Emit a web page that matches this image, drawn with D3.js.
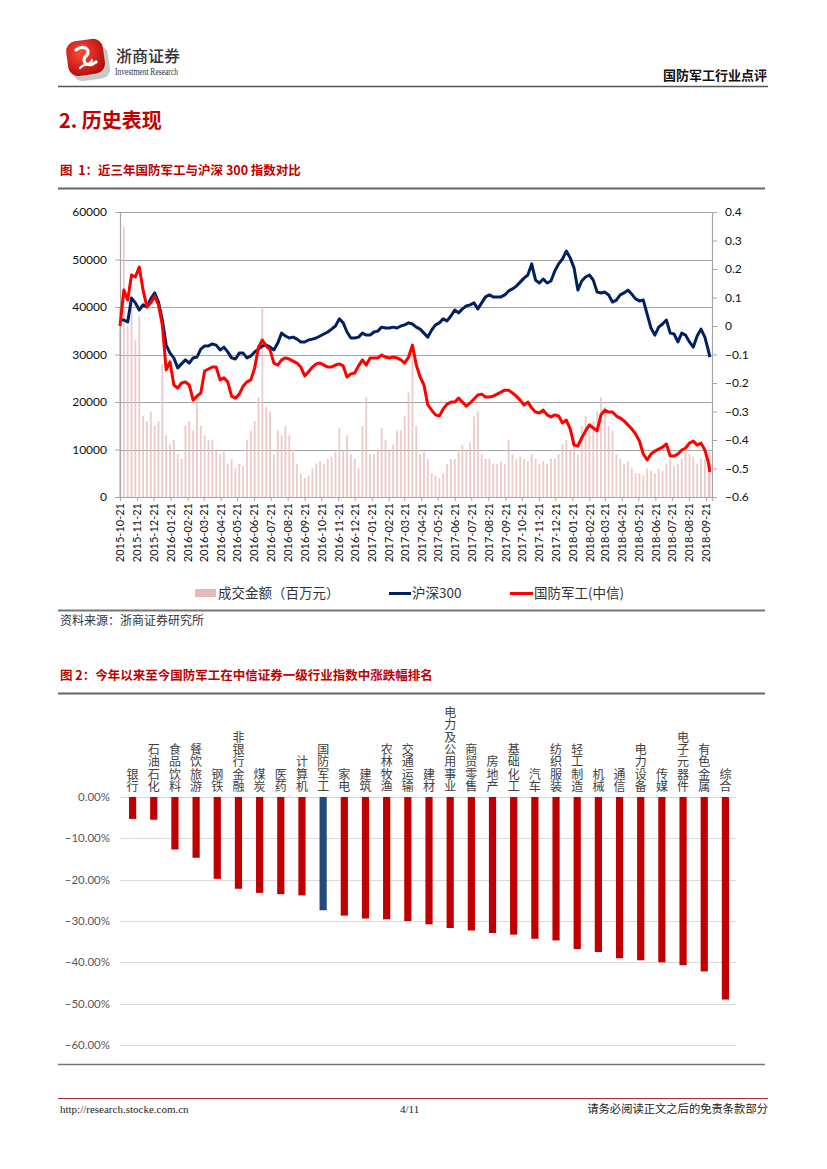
<!DOCTYPE html>
<html><head><meta charset="utf-8">
<script src="https://cdn.jsdelivr.net/npm/d3@7"></script>
<style>body{margin:0;background:#fff} svg{display:block}</style>
</head><body>
<svg id="page" width="827" height="1169"></svg>
<script>
// ---------------- DATA ----------------
const dates = ["2015-10-21","2015-10-28","2015-11-04","2015-11-11","2015-11-18","2015-11-25","2015-12-02","2015-12-09","2015-12-16","2015-12-23","2015-12-30",
"2016-01-06","2016-01-13","2016-01-20","2016-01-27","2016-02-03","2016-02-10","2016-02-17","2016-02-24","2016-03-02","2016-03-09","2016-03-16","2016-03-23","2016-03-30",
"2016-04-06","2016-04-13","2016-04-20","2016-04-27","2016-05-04","2016-05-11","2016-05-18","2016-05-25","2016-06-01","2016-06-08","2016-06-15","2016-06-22","2016-06-29",
"2016-07-06","2016-07-13","2016-07-20","2016-07-27","2016-08-03","2016-08-10","2016-08-17","2016-08-24","2016-08-31","2016-09-07","2016-09-14","2016-09-21","2016-09-28",
"2016-10-05","2016-10-12","2016-10-19","2016-10-26","2016-11-02","2016-11-09","2016-11-16","2016-11-23","2016-11-30","2016-12-07","2016-12-14","2016-12-21","2016-12-28",
"2017-01-04","2017-01-11","2017-01-18","2017-01-25","2017-02-01","2017-02-08","2017-02-15","2017-02-22","2017-03-01","2017-03-08","2017-03-15","2017-03-22","2017-03-29",
"2017-04-05","2017-04-12","2017-04-19","2017-04-26","2017-05-03","2017-05-10","2017-05-17","2017-05-24","2017-05-31","2017-06-07","2017-06-14","2017-06-21","2017-06-28",
"2017-07-05","2017-07-12","2017-07-19","2017-07-26","2017-08-02","2017-08-09","2017-08-16","2017-08-23","2017-08-30","2017-09-06","2017-09-13","2017-09-20","2017-09-27",
"2017-10-04","2017-10-11","2017-10-18","2017-10-25","2017-11-01","2017-11-08","2017-11-15","2017-11-22","2017-11-29","2017-12-06","2017-12-13","2017-12-20","2017-12-27",
"2018-01-03","2018-01-10","2018-01-17","2018-01-24","2018-01-31","2018-02-07","2018-02-14","2018-02-21","2018-02-28","2018-03-07","2018-03-14","2018-03-21","2018-03-28",
"2018-04-04","2018-04-11","2018-04-18","2018-04-25","2018-05-02","2018-05-09","2018-05-16","2018-05-23","2018-05-30","2018-06-06","2018-06-13","2018-06-20","2018-06-27",
"2018-07-04","2018-07-11","2018-07-18","2018-07-25","2018-08-01","2018-08-08","2018-08-15","2018-08-22","2018-08-29","2018-09-05","2018-09-12","2018-09-19","2018-09-26","2018-09-28"];

const hs300 = [0.021,0.021,0.014,0.098,0.081,0.056,0.074,0.067,0.095,0.116,0.084,
0.021,-0.067,-0.095,-0.112,-0.147,-0.133,-0.119,-0.130,-0.112,-0.109,-0.081,-0.070,-0.070,
-0.063,-0.067,-0.084,-0.074,-0.091,-0.112,-0.116,-0.095,-0.095,-0.112,-0.105,-0.091,-0.081,
-0.070,-0.067,-0.074,-0.084,-0.060,-0.025,-0.035,-0.042,-0.039,-0.046,-0.056,-0.056,-0.049,
-0.046,-0.042,-0.035,-0.028,-0.021,-0.011,0.000,0.025,0.011,-0.021,-0.042,-0.042,-0.039,
-0.025,-0.032,-0.032,-0.021,-0.018,-0.004,-0.007,-0.007,-0.004,-0.007,0.000,0.004,0.011,
0.007,-0.004,-0.011,-0.025,-0.039,-0.014,0.004,0.011,0.025,0.018,0.035,0.056,0.046,
0.060,0.070,0.074,0.081,0.060,0.081,0.102,0.109,0.102,0.102,0.102,0.109,0.123,
0.130,0.140,0.154,0.168,0.179,0.218,0.161,0.151,0.165,0.151,0.158,0.193,0.218,
0.235,0.263,0.239,0.204,0.126,0.158,0.172,0.179,0.161,0.119,0.116,0.119,0.109,
0.084,0.091,0.109,0.116,0.126,0.112,0.095,0.088,0.091,0.042,-0.007,-0.032,-0.004,
0.007,0.021,-0.025,-0.028,-0.056,-0.025,-0.032,-0.056,-0.074,-0.035,-0.011,-0.039,-0.091,-0.109];

const defense = [0.000,0.126,0.091,0.179,0.172,0.207,0.126,0.067,0.081,0.105,0.074,
0.004,-0.154,-0.126,-0.207,-0.218,-0.200,-0.196,-0.207,-0.260,-0.246,-0.235,-0.158,-0.151,
-0.144,-0.144,-0.189,-0.182,-0.196,-0.246,-0.253,-0.239,-0.211,-0.196,-0.189,-0.147,-0.074,
-0.049,-0.070,-0.084,-0.130,-0.137,-0.119,-0.112,-0.116,-0.123,-0.130,-0.144,-0.175,-0.161,
-0.144,-0.133,-0.130,-0.137,-0.144,-0.144,-0.137,-0.133,-0.140,-0.179,-0.168,-0.165,-0.140,
-0.119,-0.137,-0.112,-0.112,-0.112,-0.102,-0.109,-0.112,-0.109,-0.112,-0.119,-0.130,-0.109,
-0.067,-0.137,-0.179,-0.207,-0.277,-0.295,-0.312,-0.316,-0.291,-0.274,-0.267,-0.267,-0.253,
-0.267,-0.281,-0.270,-0.256,-0.242,-0.239,-0.249,-0.249,-0.246,-0.239,-0.232,-0.225,-0.225,
-0.235,-0.246,-0.260,-0.277,-0.267,-0.288,-0.302,-0.305,-0.295,-0.312,-0.319,-0.312,-0.316,
-0.340,-0.330,-0.361,-0.418,-0.421,-0.393,-0.368,-0.347,-0.358,-0.368,-0.312,-0.295,-0.302,
-0.302,-0.316,-0.323,-0.333,-0.347,-0.361,-0.379,-0.404,-0.449,-0.470,-0.449,-0.439,-0.432,
-0.425,-0.414,-0.456,-0.456,-0.449,-0.435,-0.428,-0.411,-0.404,-0.418,-0.411,-0.435,-0.484,-0.512];

const turnover = [40000,57000,36000,42000,33000,38000,17000,16000,18000,15000,16000,
28000,13000,11000,12000,9000,8000,15000,16000,14000,20000,15000,13000,12000,
12000,10000,9000,9500,7000,8000,6000,7000,6500,12000,14000,16000,21000,
40000,19000,18000,9000,14000,13000,15000,13000,9500,7000,5000,4000,4500,
6000,7000,7500,7000,8000,8500,9500,14500,10000,13000,9000,8000,6000,
15000,21000,9000,9000,10000,14500,12000,10000,11000,14000,14000,17000,22000,
32000,15000,9000,9500,8000,5000,4500,4000,5000,7000,8000,8000,9500,
11000,10000,11500,17000,18000,9000,8000,8000,7000,7000,7500,7000,12000,
9000,8000,8500,8000,7500,9000,8000,7000,7500,7000,8000,8000,9000,
11000,12000,10000,13000,9000,15000,17000,14000,16000,18000,21000,19000,15000,
14000,9000,8000,7000,7500,6000,5000,5000,4500,6000,5500,5000,6000,
5500,7000,8000,6500,7000,8000,10000,9000,8500,7000,8000,8000,9000,10000];

const monthTicks = ["2015-10-21","2015-11-21","2015-12-21","2016-01-21","2016-02-21","2016-03-21","2016-04-21","2016-05-21","2016-06-21","2016-07-21","2016-08-21","2016-09-21",
"2016-10-21","2016-11-21","2016-12-21","2017-01-21","2017-02-21","2017-03-21","2017-04-21","2017-05-21","2017-06-21","2017-07-21","2017-08-21","2017-09-21",
"2017-10-21","2017-11-21","2017-12-21","2018-01-21","2018-02-21","2018-03-21","2018-04-21","2018-05-21","2018-06-21","2018-07-21","2018-08-21","2018-09-21"];
const leftTicks = [0,10000,20000,30000,40000,50000,60000];
const rightTicks = [-0.6,-0.5,-0.4,-0.3,-0.2,-0.1,0,0.1,0.2,0.3,0.4];
const legendLabels = ["成交金额（百万元）","沪深300","国防军工(中信)"];

const industries = ["银行","石油石化","食品饮料","餐饮旅游","钢铁","非银行金融","煤炭","医药","计算机","国防军工","家电","建筑","农林牧渔","交通运输","建材","电力及公用事业","商贸零售","房地产","基础化工","汽车","纺织服装","轻工制造","机械","通信","电力设备","传媒","电子元器件","有色金属","综合"];
const changes = [-5.3,-5.5,-12.7,-14.7,-19.8,-22.2,-23.2,-23.5,-23.8,-27.4,-28.7,-29.4,-29.6,-30.0,-30.8,-31.7,-32.3,-32.9,-33.3,-34.3,-34.7,-36.8,-37.5,-39.0,-39.5,-40.0,-40.7,-42.2,-49.0];
const pctTicks = [0,-10,-20,-30,-40,-50,-60];

// ---------------- PAGE ----------------
const svg = d3.select("#page");
const NUM = "Lato, 'Noto Sans CJK SC', sans-serif";
const CJK = "'Noto Sans CJK SC', sans-serif";
const RED = "#c00000";

// logo
const defs = svg.append("defs");
const g1 = defs.append("radialGradient").attr("id","lg").attr("cx","40%").attr("cy","35%").attr("r","70%");
g1.append("stop").attr("offset","0%").attr("stop-color","#ff4a3a");
g1.append("stop").attr("offset","100%").attr("stop-color","#b20d0d");
svg.append("rect").attr("x",72).attr("y",47).attr("width",37).attr("height",33).attr("rx",9)
  .attr("fill","#9a9a9a").attr("opacity",0.55).attr("transform","rotate(-8,90,63)");
svg.append("rect").attr("x",67).attr("y",40).attr("width",37).attr("height",35).attr("rx",10)
  .attr("fill","url(#lg)").attr("transform","rotate(-8,85,57)");
svg.append("path").attr("d","M76,50 C84,44 92,50 86,56 C80,62 88,68 96,62")
  .attr("fill","none").attr("stroke","#fff").attr("stroke-width",3.2).attr("stroke-linecap","round");
svg.append("path").attr("d","M80,68 C84,63 90,66 92,60")
  .attr("fill","none").attr("stroke","#fff").attr("stroke-width",2.2).attr("stroke-linecap","round");
svg.append("text").attr("x",116).attr("y",62).attr("font-family",CJK).attr("font-size",16)
  .attr("font-weight",500).attr("fill","#333").text("浙商证券");
svg.append("text").attr("x",115).attr("y",75).attr("font-family","'Liberation Serif', serif").attr("font-size",10)
  .attr("textLength",63).attr("lengthAdjust","spacingAndGlyphs").attr("fill","#333").text("Investment Research");
svg.append("text").attr("x",767).attr("y",80).attr("text-anchor","end").attr("font-family",CJK)
  .attr("font-size",13).attr("font-weight",700).attr("fill","#111").text("国防军工行业点评");
svg.append("line").attr("x1",58).attr("x2",768).attr("y1",86.5).attr("y2",86.5).attr("stroke","#555").attr("stroke-width",1.3);

svg.append("text").attr("x",59).attr("y",128).attr("font-family",CJK).attr("font-size",20)
  .attr("font-weight",700).attr("fill",RED).text("2. 历史表现");
svg.append("text").attr("x",60).attr("y",175).attr("font-family",CJK).attr("font-size",12.5)
  .attr("font-weight",700).attr("fill",RED).attr("xml:space","preserve").text("图  1：近三年国防军工与沪深 300 指数对比");
svg.append("line").attr("x1",58).attr("x2",765).attr("y1",188.5).attr("y2",188.5).attr("stroke","#666").attr("stroke-width",2);

// ---------------- CHART 1 ----------------
const parse = d3.timeParse("%Y-%m-%d");
const x = d3.scaleTime().domain([parse("2015-10-21"), parse("2018-10-02")]).range([120,712]);
const yL = d3.scaleLinear().domain([0,60000]).range([497,212]);
const yR = d3.scaleLinear().domain([-0.6,0.4]).range([497,212]);
const c1 = svg.append("g");

// gridlines
c1.append("g").selectAll("line").data(leftTicks.filter(d=>d>0)).join("line")
  .attr("x1",120).attr("x2",712).attr("y1",d=>Math.round(yL(d))+0.5).attr("y2",d=>Math.round(yL(d))+0.5)
  .attr("stroke","#a6a6a6").attr("stroke-width",1.2);

// turnover bars
const rows = dates.map((d,i)=>({date:parse(d), hs:hs300[i], df:defense[i], vol:turnover[i]}));
c1.append("g").selectAll("rect").data(rows).join("rect")
  .attr("x",d=>x(d.date)-0.9).attr("width",1.8)
  .attr("y",d=>yL(d.vol)).attr("height",d=>497-yL(d.vol))
  .attr("fill","#e6b8b7").attr("opacity",0.75);

// axes
const axL = c1.append("g").attr("transform","translate(120,0)")
  .call(d3.axisLeft(yL).tickValues(leftTicks).tickFormat(d3.format("d")).tickSize(5).tickPadding(8));
const axR = c1.append("g").attr("transform","translate(712,0)")
  .call(d3.axisRight(yR).tickValues(rightTicks).tickFormat(d=>d===0?"0":d3.format(".1f")(d)).tickSize(5).tickPadding(8));
const axB = c1.append("g").attr("transform","translate(0,497)")
  .call(d3.axisBottom(x).tickValues(monthTicks.map(parse)).tickFormat(d3.timeFormat("%Y-%m-%d")).tickSize(4));
[axL,axR,axB].forEach(a=>{
  a.select(".domain").attr("stroke","#a6a6a6").attr("stroke-width",1.2);
  a.selectAll(".tick line").attr("stroke","#a6a6a6");
  a.selectAll("text").attr("font-family",NUM).attr("font-size",12).attr("fill","#111");
});
axB.selectAll("text").attr("font-size",11)
  .attr("transform","rotate(-90)").attr("text-anchor","end").attr("x",-6).attr("y",0).attr("dy","0.35em");

// lines
const lineHs = d3.line().x(d=>x(d.date)).y(d=>yR(d.hs));
const lineDf = d3.line().x(d=>x(d.date)).y(d=>yR(d.df));
c1.append("path").datum(rows).attr("d",lineHs).attr("fill","none").attr("stroke","#002060")
  .attr("stroke-width",3).attr("stroke-linejoin","round");
c1.append("path").datum(rows).attr("d",lineDf).attr("fill","none").attr("stroke","#ff0000")
  .attr("stroke-width",3).attr("stroke-linejoin","round");

// legend
const lg = svg.append("g").attr("font-family",CJK).attr("font-size",13.5).attr("fill","#333");
lg.append("rect").attr("x",195).attr("y",589).attr("width",21).attr("height",8).attr("fill","#e6b8b7");
lg.append("text").attr("x",218).attr("y",598).text(legendLabels[0]);
lg.append("line").attr("x1",389).attr("x2",411).attr("y1",593.5).attr("y2",593.5).attr("stroke","#002060").attr("stroke-width",3);
lg.append("text").attr("x",412).attr("y",598).text(legendLabels[1]);
lg.append("line").attr("x1",510).attr("x2",533).attr("y1",593.5).attr("y2",593.5).attr("stroke","#ff0000").attr("stroke-width",3);
lg.append("text").attr("x",534).attr("y",598).text(legendLabels[2]);

svg.append("line").attr("x1",58).attr("x2",765).attr("y1",610.5).attr("y2",610.5).attr("stroke","#777").attr("stroke-width",2);
svg.append("text").attr("x",60).attr("y",625).attr("font-family",CJK).attr("font-size",12).attr("fill","#333").text("资料来源：浙商证券研究所");

// ---------------- CHART 2 ----------------
svg.append("text").attr("x",60).attr("y",680).attr("font-family",CJK).attr("font-size",12.5)
  .attr("font-weight",700).attr("fill",RED).text("图 2：今年以来至今国防军工在中信证券一级行业指数中涨跌幅排名");
svg.append("line").attr("x1",58).attr("x2",765).attr("y1",693.5).attr("y2",693.5).attr("stroke","#666").attr("stroke-width",2);

const xb = d3.scaleBand().domain(industries).range([122,736]).paddingInner(0.66).paddingOuter(0.33);
const y2 = d3.scaleLinear().domain([-60,0]).range([1045,797]);
const c2 = svg.append("g");
c2.append("g").selectAll("line").data(pctTicks).join("line")
  .attr("x1",120).attr("x2",736).attr("y1",d=>Math.round(y2(d))+0.5).attr("y2",d=>Math.round(y2(d))+0.5)
  .attr("stroke","#d9d9d9").attr("stroke-width",1);
c2.append("g").selectAll("text").data(pctTicks).join("text")
  .attr("x",110).attr("y",d=>y2(d)).attr("dy","0.35em").attr("text-anchor","end")
  .attr("font-family",NUM).attr("font-size",11.5).attr("fill","#595959")
  .text(d=>d3.format(".2f")(d)+"%");
c2.append("g").selectAll("rect").data(industries).join("rect")
  .attr("x",d=>xb(d)).attr("width",xb.bandwidth())
  .attr("y",y2(0)).attr("height",(d,i)=>y2(changes[i])-y2(0))
  .attr("fill",d=>d==="国防军工"?"#244a7c":"#c00000");
// vertical category labels (one text per category, stacked characters)
c2.append("g").selectAll("text").data(industries).join("text")
  .attr("x",d=>xb(d)+xb.bandwidth()/2).attr("y",793)
  .attr("text-anchor","end")
  .style("writing-mode","vertical-rl").style("text-orientation","upright")
  .attr("letter-spacing",0.4)
  .attr("font-family",CJK).attr("font-size",12).attr("fill","#404040")
  .text(d=>d);
svg.append("line").attr("x1",58).attr("x2",765).attr("y1",1064.5).attr("y2",1064.5).attr("stroke","#777").attr("stroke-width",1.5);

// ---------------- FOOTER ----------------
svg.append("line").attr("x1",58).attr("x2",768).attr("y1",1098.5).attr("y2",1098.5).attr("stroke","#a03030").attr("stroke-width",1);
svg.append("text").attr("x",60).attr("y",1113).attr("font-family","'Liberation Serif', serif").attr("font-size",11).attr("fill","#222").text("http://research.stocke.com.cn");
svg.append("text").attr("x",400).attr("y",1113).attr("font-family","'Liberation Serif', serif").attr("font-size",11).attr("fill","#222").text("4/11");
svg.append("text").attr("x",768).attr("y",1113).attr("text-anchor","end").attr("font-family",CJK).attr("font-size",11.3).attr("fill","#222").text("请务必阅读正文之后的免责条款部分");
</script>
</body></html>
